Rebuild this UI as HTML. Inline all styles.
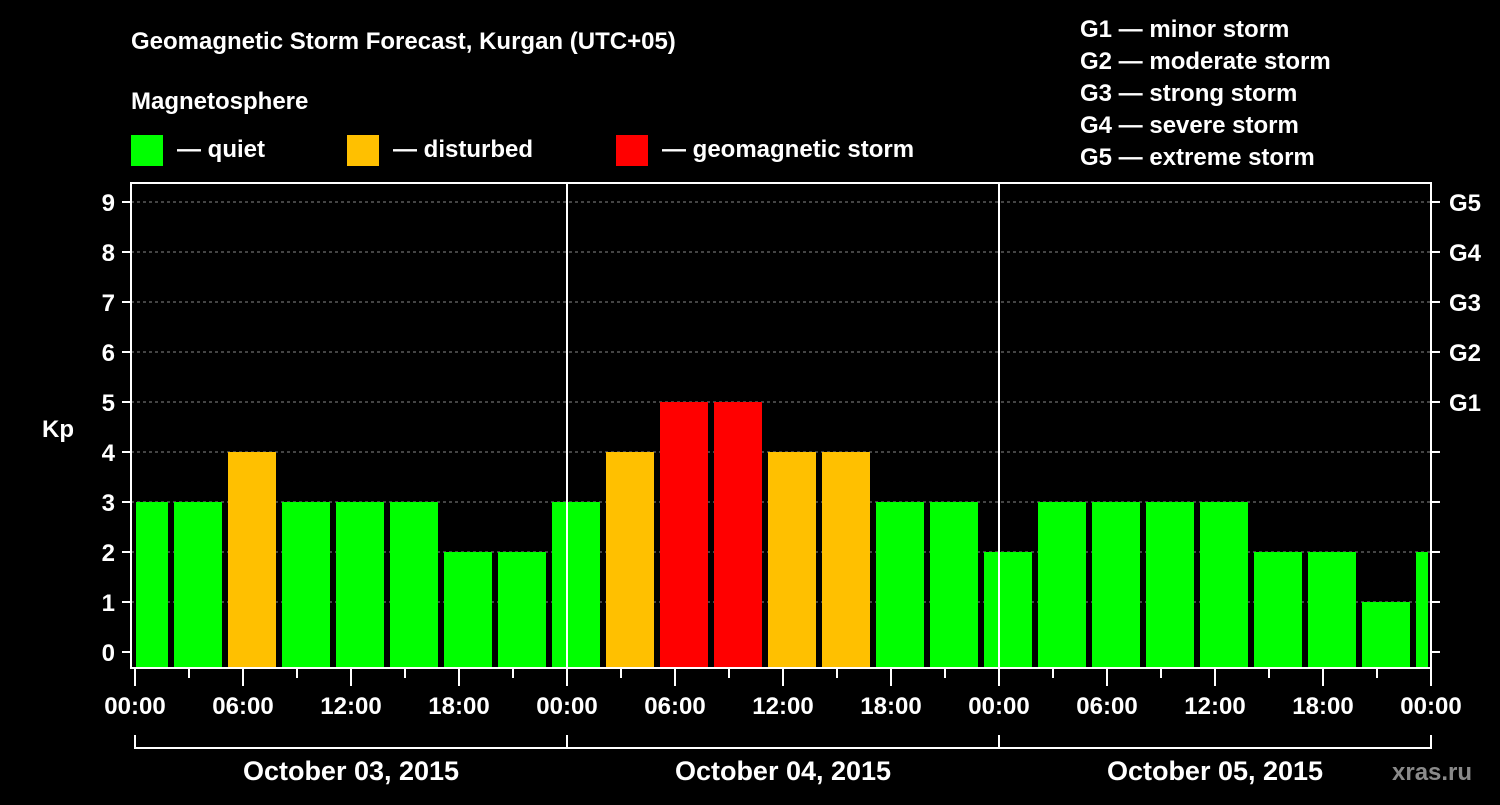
<!DOCTYPE html>
<html><head><meta charset="utf-8"><style>
html,body{margin:0;background:#000;}
svg text{font-family:"Liberation Sans",sans-serif;font-weight:bold;fill:#fff;}
</style></head><body>
<svg id="c" width="1500" height="800" xmlns="http://www.w3.org/2000/svg">
<rect width="1500" height="800" fill="#000"/>
<text x="131" y="49" font-size="24">Geomagnetic Storm Forecast, Kurgan (UTC+05)</text>
<text x="131" y="109" font-size="24">Magnetosphere</text>
<g><rect x="131" y="135" width="32" height="31" fill="#00ff00"/><text x="177" y="157" font-size="24">— quiet</text></g>
<g><rect x="347" y="135" width="32" height="31" fill="#ffc000"/><text x="393" y="157" font-size="24">— disturbed</text></g>
<g><rect x="616" y="135" width="32" height="31" fill="#ff0000"/><text x="662" y="157" font-size="24">— geomagnetic storm</text></g>
<g font-size="24">
<text x="1080" y="37">G1 — minor storm</text>
<text x="1080" y="69">G2 — moderate storm</text>
<text x="1080" y="101">G3 — strong storm</text>
<text x="1080" y="133">G4 — severe storm</text>
<text x="1080" y="165">G5 — extreme storm</text>
</g>
<text x="42" y="437" font-size="24">Kp</text>
<g id="grid"></g><g id="bars"></g><g id="axes"></g>
<text x="1392" y="780" font-size="24" fill="#888" style="fill:#8a8a8a">xras.ru</text>
</svg>
<script>
const kpValues=[3,3,4,3,3,3,2,2,3,4,5,5,4,4,3,3,2,3,3,3,3,2,2,1,2];
const dayLabels=["October 03, 2015","October 04, 2015","October 05, 2015"];
const hourLabels=["00:00","06:00","12:00","18:00"];
const gLabels=["G1","G2","G3","G4","G5"];
const NS="http://www.w3.org/2000/svg";
const X0=131,X1=1431,YT=183,YB=668;
const xH=h=>135+h*18; // hours from start
const yK=k=>652-k*50;
function el(p,t,a,txt){const e=document.createElementNS(NS,t);for(const k in a)e.setAttribute(k,a[k]);if(txt!==undefined)e.textContent=txt;p.appendChild(e);return e;}
const grid=document.getElementById('grid'),bars=document.getElementById('bars'),axes=document.getElementById('axes');
for(let k=1;k<=9;k++){const l=el(grid,'line',{x1:X0,x2:X1,y1:yK(k),y2:yK(k),stroke:'#888','stroke-dasharray':'3,3','stroke-width':1});

}
kpValues.forEach((v,i)=>{
 let s=xH(-1+3*i)+3,e=xH(2+3*i)-3;
 if(s<X0+5)s=X0+5; if(e>X1-3)e=X1-3;
 const c=v>=5?'#ff0000':(v>=4?'#ffc000':'#00ff00');
 const r=el(bars,'rect',{x:s,y:yK(v),width:e-s,height:YB-yK(v),fill:c});
 
 
});
const frame=el(axes,'rect',{x:X0,y:YT,width:X1-X0,height:YB-YT,fill:'none',stroke:'#fff','stroke-width':2});


[1,2].forEach(d=>{const l=el(axes,'line',{x1:xH(24*d),x2:xH(24*d),y1:YT,y2:YB,stroke:'#fff','stroke-width':2});

});
for(let k=0;k<=9;k++){
 el(axes,'line',{x1:122,x2:X0,y1:yK(k),y2:yK(k),stroke:'#fff','stroke-width':2});
 el(axes,'line',{x1:X1,x2:1440,y1:yK(k),y2:yK(k),stroke:'#fff','stroke-width':2});
 const t=el(axes,'text',{x:115,y:yK(k)+9,'font-size':24,'text-anchor':'end'},String(k));
 
 
}
gLabels.forEach((g,i)=>{const t=el(axes,'text',{x:1449,y:yK(5+i)+9,'font-size':24},g);

});
for(let h=0;h<=72;h+=3){
 const major=h%6===0;
 el(axes,'line',{x1:xH(h),x2:xH(h),y1:YB,y2:major?686:678,stroke:'#fff','stroke-width':2});
 if(major){const t=el(axes,'text',{x:xH(h),y:714,'font-size':24,'text-anchor':'middle'},hourLabels[(h/6)%4]);
 
 }
}
el(axes,'line',{x1:xH(0),x2:xH(72),y1:748,y2:748,stroke:'#fff','stroke-width':2});
for(let d=0;d<=3;d++)el(axes,'line',{x1:xH(24*d),x2:xH(24*d),y1:735,y2:749,stroke:'#fff','stroke-width':2});
dayLabels.forEach((d,i)=>{const t=el(axes,'text',{x:xH(24*i+12),y:780,'font-size':27,'text-anchor':'middle'},d);

});
</script>
</body></html>
